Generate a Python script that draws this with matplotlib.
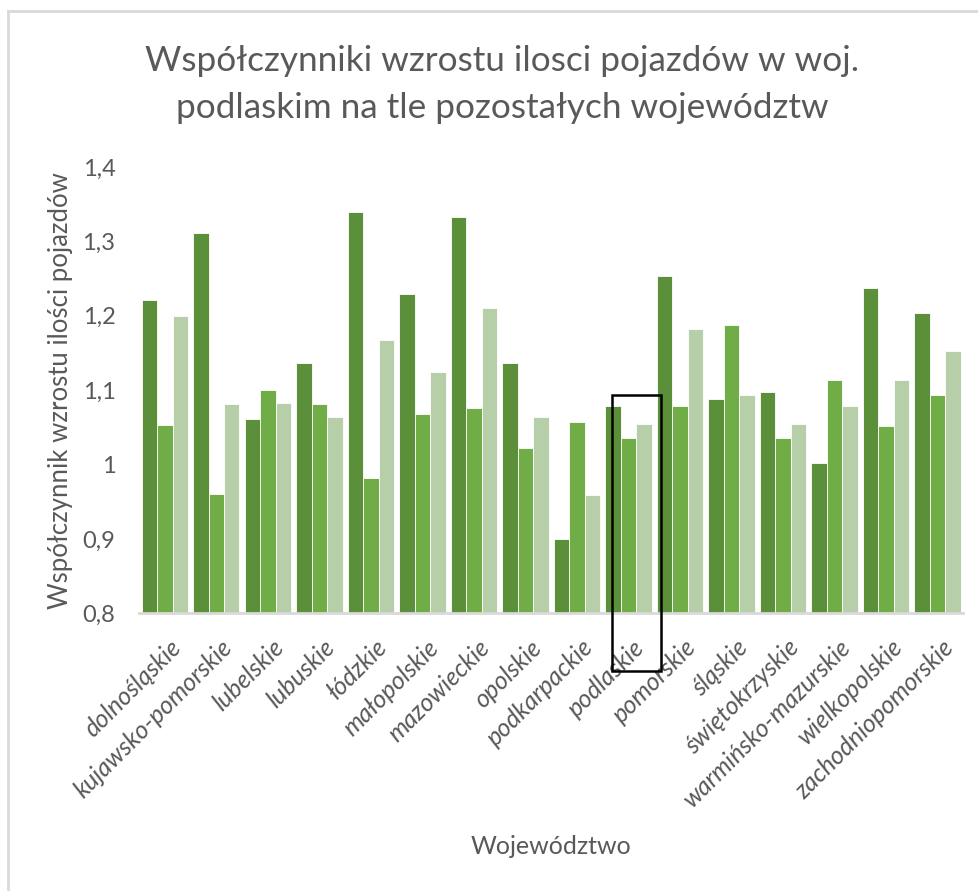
import numpy as np
import matplotlib.pyplot as plt
import matplotlib.transforms as mtransforms
from matplotlib.patches import Rectangle
from matplotlib.lines import Line2D

plt.rcParams['font.family'] = ['Lato', 'DejaVu Sans']

wojewodztwa = ['dolnośląskie', 'kujawsko-pomorskie', 'lubelskie', 'lubuskie', 'łódzkie',
               'małopolskie', 'mazowieckie', 'opolskie', 'podkarpackie', 'podlaskie',
               'pomorskie', 'śląskie', 'świętokrzyskie', 'warmińsko-mazurskie',
               'wielkopolskie', 'zachodniopomorskie']

seria1 = [1.221, 1.311, 1.061, 1.137, 1.339, 1.229, 1.333, 1.136,
          0.900, 1.078, 1.253, 1.088, 1.097, 1.002, 1.237, 1.203]
seria2 = [1.053, 0.960, 1.100, 1.081, 0.982, 1.068, 1.076, 1.022,
          1.057, 1.035, 1.078, 1.188, 1.035, 1.114, 1.052, 1.094]
seria3 = [1.199, 1.081, 1.083, 1.064, 1.167, 1.124, 1.210, 1.064,
          0.959, 1.055, 1.182, 1.094, 1.055, 1.078, 1.114, 1.152]

yticks = [0.8, 0.9, 1.0, 1.1, 1.2, 1.3, 1.4]
ytick_labels = ['0,8', '0,9', '1', '1,1', '1,2', '1,3', '1,4']

colors = ['#5B8F39', '#70AD47', '#B6CFA8']
grey = '#595959'

fig = plt.figure(figsize=(9.79, 8.91), dpi=100)
ax = fig.add_axes([0.142, 0.3117, 0.842, 0.501])

x = np.arange(len(wojewodztwa))
w = 0.3
base = 0.8
for k, (vals, c) in enumerate(zip([seria1, seria2, seria3], colors)):
    ax.bar(x + (k - 1) * w, np.array(vals) - base, w, bottom=base, color=c,
           edgecolor='white', linewidth=0.6)

ax.set_xlim(-0.5, len(wojewodztwa) - 0.5)
ax.set_ylim(0.8, 1.4)
ax.set_yticks(yticks)
ax.set_yticklabels(ytick_labels, fontsize=17, color=grey)
ax.set_xticks(x)
ax.set_xticklabels(wojewodztwa, rotation=45, ha='right', rotation_mode='anchor',
                   fontsize=18, color=grey, style='italic')
ax.tick_params(axis='both', length=0)
ax.tick_params(axis='x', pad=16)
ax.tick_params(axis='y', pad=17)
shift = mtransforms.ScaledTranslation(4 / 100, 0, fig.dpi_scale_trans)
for lab in ax.get_xticklabels():
    lab.set_transform(lab.get_transform() + shift)
for s in ['top', 'right', 'left']:
    ax.spines[s].set_visible(False)
ax.spines['bottom'].set_color('#D9D9D9')
ax.spines['bottom'].set_linewidth(2)

ax.set_ylabel('Współczynnik wzrostu ilości pojazdów', fontsize=18.5, color=grey)
ax.yaxis.set_label_coords(-0.0795, 0.5)
ax.set_xlabel('Województwo', fontsize=18, color=grey, va='top')
ax.xaxis.set_label_coords(0.5, -0.497)

fig.text(0.513, 0.905, 'Współczynniki wzrostu ilosci pojazdów w woj.\npodlaskim na tle pozostałych województw',
         ha='center', va='center', fontsize=25.3, color=grey, linespacing=1.55)

# ramka wokol podlaskiego
i = wojewodztwa.index('podlaskie')
rect = Rectangle((i - 0.32, 0.722), 0.96, 1.093 - 0.722, fill=False,
                 edgecolor='black', linewidth=1.8, clip_on=False, zorder=5)
ax.add_patch(rect)

# obramowanie wykresu
fig.add_artist(Line2D([8 / 979, 1], [1 - 11 / 891, 1 - 11 / 891], color='#D9D9D9', linewidth=2))
fig.add_artist(Line2D([8 / 979, 8 / 979], [0, 1 - 11 / 891], color='#D9D9D9', linewidth=2))

plt.savefig('out.png')
